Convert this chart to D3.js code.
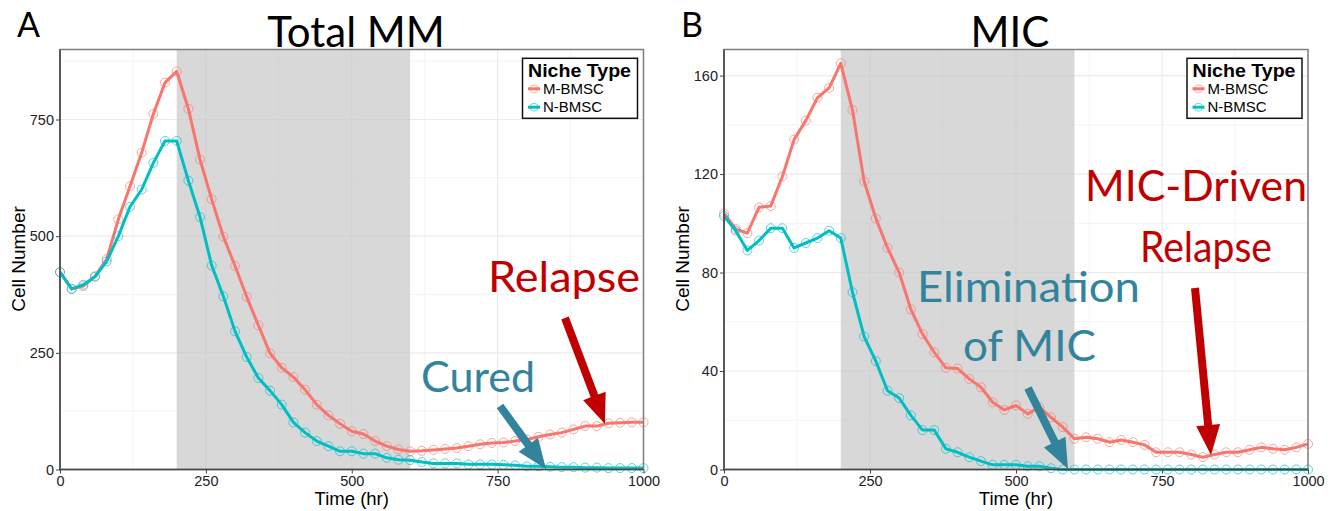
<!DOCTYPE html>
<html>
<head>
<meta charset="utf-8">
<script src="https://cdn.jsdelivr.net/npm/d3@7"></script>
<style>
  body { margin: 0; background: #fff; }
  svg { display: block; }
</style>
</head>
<body>
<div id="chart"></div>
<script>
// Time points (hr), sampled every 20 hr
const time = [0, 20, 40, 60, 80, 100, 120, 140, 160, 180, 200,
    220, 240, 260, 280, 300, 320, 340, 360, 380, 400,
    420, 440, 460, 480, 500, 520, 540, 560, 580, 600,
    620, 640, 660, 680, 700, 720, 740, 760, 780, 800,
    820, 840, 860, 880, 900, 920, 940, 960, 980, 1000];

// Panel A - Total MM
const totalM = [423, 387, 393, 414, 451, 536, 607, 679, 762, 829, 853,
    773, 664, 579, 499, 436, 370, 309, 249, 218, 198,
    171, 139, 116, 98, 82, 76, 61, 50, 43, 39,
    40, 42, 44, 46, 50, 54, 57, 58, 61, 64,
    70, 75, 79, 86, 93, 93, 99, 100, 101, 101];
const totalN = [423, 387, 396, 413, 446, 500, 563, 600, 657, 704, 704,
    619, 541, 437, 371, 296, 241, 196, 169, 139, 101,
    79, 61, 50, 39, 39, 34, 34, 25, 21, 20,
    16, 13, 13, 13, 11, 11, 11, 10, 9, 7,
    7, 6, 5, 5, 4, 4, 3, 3, 3, 3];

// Panel B - MIC
const micM = [104, 97.7, 96, 106.5, 107, 119, 134, 141.7, 151, 155, 165,
    146, 117, 102, 90, 80, 65, 55, 47.6, 41.3, 41,
    36.8, 33.4, 27.3, 24.2, 26, 22.6, 25.3, 21.2, 17.2, 12.5,
    13.1, 12.5, 11.1, 12, 11.1, 10, 7, 7, 7, 6.1,
    5, 6.1, 7, 7, 8, 9, 8.4, 8, 9, 10.4];
const micN = [103, 97, 89, 93, 98, 98, 90, 92, 94, 97, 94,
    72, 54, 44, 32, 29, 22, 16, 16, 8.4, 7,
    5, 3.4, 1.9, 1.9, 1.9, 1.3, 1.3, 0.5, 0, 0,
    0, 0, 0, 0, 0, 0, 0, 0, 0, 0,
    0, 0, 0, 0, 0, 0, 0, 0, 0, 0];

const nicheTypes = ["M-BMSC", "N-BMSC"];
const nicheColors = ["#F8766D", "#00BFC4"];
const treatment = [200, 600];
const xTicks = [0, 250, 500, 750, 1000];
const xMinor = [125, 375, 625, 875];
const yTicksA = [0, 250, 500, 750];
const yMinorA = [125, 375, 625, 875];
const yTicksB = [0, 40, 80, 120, 160];
const yMinorB = [20, 60, 100, 140];

const width = 1332;
const height = 511;
const red = "#C00000";
const blue = "#31849B";

const svg = d3.select("#chart")
    .append("svg")
    .attr("width", width)
    .attr("height", height);

// draws one ggplot-like panel
function drawPanel(opt) {
    const x = d3.scaleLinear().domain([0, 1000]).range([opt.left, opt.right]);
    const y = d3.scaleLinear().domain([0, opt.yMax]).range([opt.bottom, opt.top]);
    const g = svg.append("g");

    // grid
    g.selectAll(".vminor").data(xMinor).enter().append("line")
        .attr("x1", d => x(d)).attr("x2", d => x(d))
        .attr("y1", opt.top).attr("y2", opt.bottom)
        .attr("stroke", "#F4F4F4").attr("stroke-width", 1);
    g.selectAll(".hminor").data(opt.yMinor).enter().append("line")
        .attr("y1", d => y(d)).attr("y2", d => y(d))
        .attr("x1", opt.left).attr("x2", opt.right)
        .attr("stroke", "#F4F4F4").attr("stroke-width", 1);
    g.selectAll(".vmajor").data(xTicks).enter().append("line")
        .attr("x1", d => x(d)).attr("x2", d => x(d))
        .attr("y1", opt.top).attr("y2", opt.bottom)
        .attr("stroke", "#EBEBEB").attr("stroke-width", 1.2);
    g.selectAll(".hmajor").data(opt.yTicks).enter().append("line")
        .attr("y1", d => y(d)).attr("y2", d => y(d))
        .attr("x1", opt.left).attr("x2", opt.right)
        .attr("stroke", "#EBEBEB").attr("stroke-width", 1.2);

    // treatment window
    g.append("rect")
        .attr("x", x(treatment[0]))
        .attr("y", opt.top)
        .attr("width", x(treatment[1]) - x(treatment[0]))
        .attr("height", opt.bottom - opt.top)
        .attr("fill", "#C6C6C6")
        .attr("opacity", 0.68);

    // lines and points
    const line = d3.line()
        .x((d, i) => x(time[i]))
        .y(d => y(d));
    opt.series.forEach((s, k) => {
        g.append("path")
            .datum(s)
            .attr("d", line)
            .attr("fill", "none")
            .attr("stroke", nicheColors[k])
            .attr("stroke-width", 3)
            .attr("stroke-linejoin", "round");
        g.selectAll(".pt" + k).data(s).enter().append("circle")
            .attr("cx", (d, i) => x(time[i]))
            .attr("cy", d => y(d))
            .attr("r", 4.5)
            .attr("fill", "none")
            .attr("stroke", nicheColors[k])
            .attr("stroke-opacity", 0.65)
            .attr("stroke-width", 1);
    });

    // border
    g.append("rect")
        .attr("x", opt.left).attr("y", opt.top)
        .attr("width", opt.right - opt.left)
        .attr("height", opt.bottom - opt.top)
        .attr("fill", "none")
        .attr("stroke", "#7F7F7F")
        .attr("stroke-width", 1.5);
    g.append("path")
        .attr("d", `M${opt.left},${opt.top}V${opt.bottom}H${opt.right}`)
        .attr("fill", "none")
        .attr("stroke", "#444")
        .attr("stroke-width", 1.5);

    // axes
    const xAxis = g.append("g")
        .attr("transform", `translate(0,${opt.bottom})`)
        .call(d3.axisBottom(x).tickValues(xTicks).tickFormat(d3.format("d")).tickSize(4).tickPadding(2));
    const yAxis = g.append("g")
        .attr("transform", `translate(${opt.left},0)`)
        .call(d3.axisLeft(y).tickValues(opt.yTicks).tickFormat(d3.format("d")).tickSize(4).tickPadding(2));
    [xAxis, yAxis].forEach(a => {
        a.select(".domain").remove();
        a.selectAll("line").attr("stroke", "#444");
        a.selectAll("text")
            .attr("fill", "#222")
            .style("font-family", "Liberation Sans, Arial, sans-serif")
            .style("font-size", "14.5px");
    });

    // axis titles
    g.append("text")
        .attr("x", (opt.left + opt.right) / 2)
        .attr("y", 505)
        .attr("text-anchor", "middle")
        .style("font-family", "Liberation Sans, Arial, sans-serif")
        .style("font-size", "18.5px")
        .text("Time (hr)");
    g.append("text")
        .attr("transform", `translate(${opt.left - 35},259) rotate(-90)`)
        .attr("text-anchor", "middle")
        .style("font-family", "Liberation Sans, Arial, sans-serif")
        .style("font-size", "19px")
        .text("Cell Number");

    // panel letter and title
    g.append("text")
        .attr("x", opt.left - 43).attr("y", 37)
        .style("font-family", "Lato, sans-serif")
        .style("font-size", "34px")
        .text(opt.letter);
    g.append("text")
        .attr("x", opt.titleX).attr("y", 47)
        .attr("text-anchor", "middle")
        .style("font-family", "Lato, sans-serif")
        .style("font-size", "42px")
        .text(opt.title);

    // legend
    const lg = g.append("g").attr("transform", `translate(${opt.right - 121},58.3)`);
    lg.append("rect")
        .attr("width", 115).attr("height", 60)
        .attr("fill", "#fff").attr("stroke", "#111").attr("stroke-width", 1.5);
    lg.append("text")
        .attr("x", 5.5).attr("y", 18.5)
        .attr("textLength", 103)
        .attr("lengthAdjust", "spacingAndGlyphs")
        .style("font-family", "Liberation Sans, Arial, sans-serif")
        .style("font-size", "18.5px")
        .style("font-weight", "bold")
        .text("Niche Type");
    nicheTypes.forEach((n, k) => {
        const cy = 30.5 + k * 18.4;
        lg.append("line")
            .attr("x1", 5.5).attr("x2", 17.5).attr("y1", cy).attr("y2", cy)
            .attr("stroke", nicheColors[k]).attr("stroke-width", 3);
        lg.append("circle")
            .attr("cx", 11.5).attr("cy", cy).attr("r", 4)
            .attr("fill", "none").attr("stroke", nicheColors[k])
            .attr("stroke-opacity", 0.6);
        lg.append("text")
            .attr("x", 20.5).attr("y", cy + 5.3)
            .style("font-family", "Liberation Sans, Arial, sans-serif")
            .style("font-size", "15px")
            .text(n);
    });
}

// thick arrow drawn as polygon
function arrow(x1, y1, x2, y2, color) {
    const dx = x2 - x1, dy = y2 - y1;
    const len = Math.sqrt(dx * dx + dy * dy);
    const ux = dx / len, uy = dy / len;
    const px = -uy, py = ux;
    const w = 4, hw = 12, hl = 30;
    const bx = x2 - ux * hl, by = y2 - uy * hl;
    const pts = [
        [x1 + px * w, y1 + py * w],
        [bx + px * w, by + py * w],
        [bx + px * hw, by + py * hw],
        [x2, y2],
        [bx - px * hw, by - py * hw],
        [bx - px * w, by - py * w],
        [x1 - px * w, y1 - py * w]
    ];
    svg.append("polygon")
        .attr("points", pts.map(p => p.join(",")).join(" "))
        .attr("fill", color);
}

function label(txt, x, y, w, color) {
    svg.append("text")
        .attr("x", x).attr("y", y)
        .attr("textLength", w)
        .attr("lengthAdjust", "spacingAndGlyphs")
        .attr("fill", color)
        .style("font-family", "Lato, sans-serif")
        .style("font-size", "42px")
        .text(txt);
}

drawPanel({
    left: 60, right: 643.5, top: 49.5, bottom: 469.5,
    yMax: 900, yTicks: yTicksA, yMinor: yMinorA,
    series: [totalM, totalN],
    letter: "A", title: "Total MM", titleX: 356
});
drawPanel({
    left: 724, right: 1308, top: 49.5, bottom: 469.5,
    yMax: 170.6, yTicks: yTicksB, yMinor: yMinorB,
    series: [micM, micN],
    letter: "B", title: "MIC", titleX: 1010
});

// annotations
label("Relapse", 488, 292, 152, red);
arrow(565, 318, 605, 424, red);
label("Cured", 421, 392, 114, blue);
arrow(500, 406, 546, 469, blue);

label("MIC-Driven", 1085, 201, 222, red);
label("Relapse", 1140, 262, 132, red);
arrow(1195, 288, 1211, 455, red);
label("Elimination", 917, 302, 223, blue);
label("of MIC", 963, 361, 133, blue);
arrow(1028, 388, 1068, 469, blue);
</script>
</body>
</html>
